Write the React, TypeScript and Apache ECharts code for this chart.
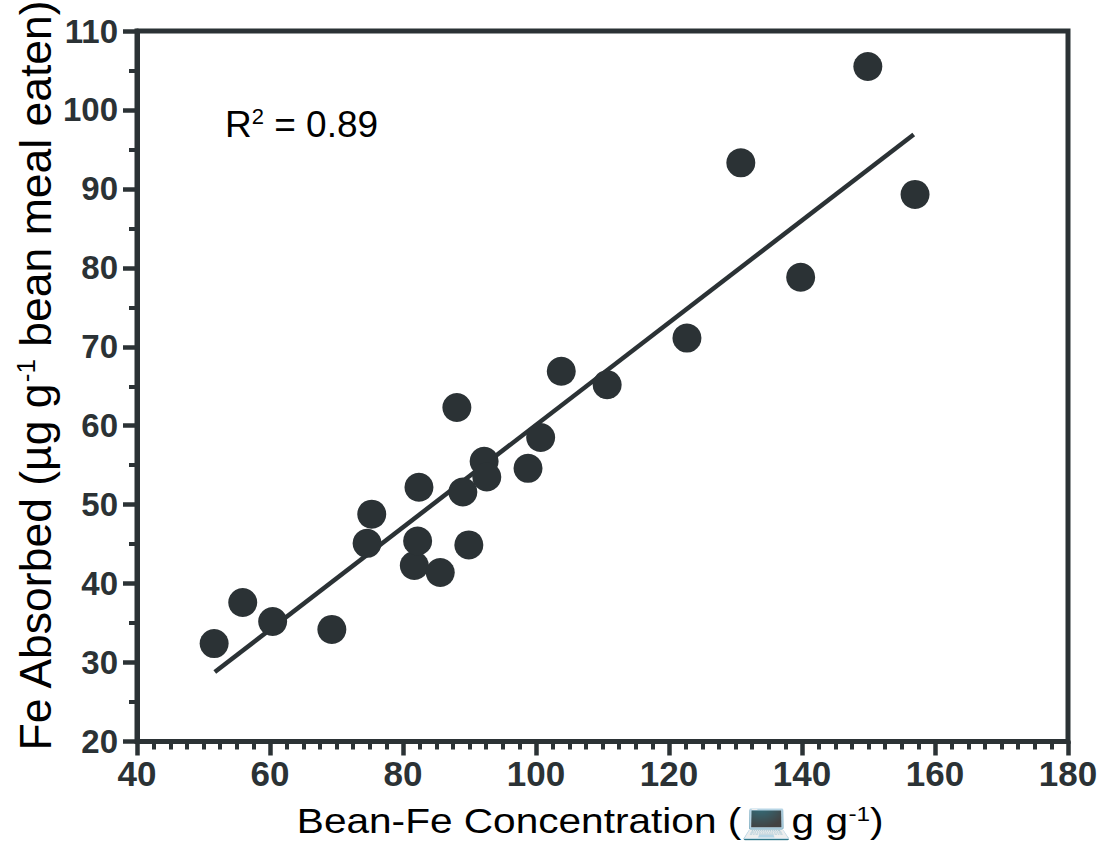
import React, { useEffect, useRef } from "react";
import * as echarts from "echarts";

const beanFe = [51.6, 55.9, 60.4, 69.3, 74.6, 75.3, 81.7, 82.2, 82.4, 85.6, 88.1, 89.0, 89.9, 92.2, 92.6, 98.8, 100.7, 103.8, 110.7, 122.7, 130.8, 139.8, 149.9, 157.0];
const feAbsorbed = [32.4, 37.6, 35.2, 34.2, 45.1, 48.8, 42.3, 45.4, 52.2, 41.4, 62.3, 51.6, 44.9, 55.5, 53.5, 54.6, 58.5, 66.9, 65.2, 71.1, 93.3, 78.8, 105.5, 89.3];
const fitX = [51.7, 156.8];
const fitY = [28.8, 96.9];
const xTickRange = { min: 40, max: 180, interval: 20 };
const yTickRange = { min: 20, max: 110, interval: 10 };
const rSquaredText = "0.89";

const DARK = "#2b3235";
const FONT = "'Liberation Sans', Arial, sans-serif";

export default function App() {
  const ref = useRef<HTMLDivElement>(null);
  useEffect(() => {
    if (!ref.current) return;
    const chart = echarts.init(ref.current, undefined, { renderer: "svg" });
    const points = beanFe.map((x, i) => [x, feAbsorbed[i]]);
    const fit = fitX.map((x, i) => [x, fitY[i]]);
    const axisCommon = {
      type: "value" as const,
      splitLine: { show: false },
      minorSplitLine: { show: false },
      axisLine: { show: true, onZero: false, lineStyle: { color: DARK, width: 5 } },
      axisTick: { show: true, inside: false, length: 14, lineStyle: { color: DARK, width: 4.5 } },
    };
    chart.setOption({
      animation: false,
      backgroundColor: "#ffffff",
      grid: {
        left: 137,
        right: 39,
        top: 31,
        bottom: 117.5,
        show: true,
        borderColor: DARK,
        borderWidth: 5,
        backgroundColor: "transparent",
      },
      xAxis: {
        ...axisCommon,
        ...xTickRange,
        minorTick: { show: true, splitNumber: 8, length: 8, lineStyle: { color: DARK, width: 4 } },
        axisLabel: {
          color: DARK,
          fontSize: 35,
          fontWeight: "bold",
          fontFamily: FONT,
          margin: 14,
        },
      },
      yAxis: {
        ...axisCommon,
        ...yTickRange,
        minorTick: { show: true, splitNumber: 2, length: 8, lineStyle: { color: DARK, width: 4 } },
        axisLabel: {
          color: DARK,
          fontSize: 33,
          fontWeight: "bold",
          fontFamily: FONT,
          margin: 19,
        },
      },
      graphic: [
        {
          type: "text",
          x: 225,
          y: 124,
          style: {
            text: "R{sup|2} = " + rSquaredText,
            fill: "#000",
            fontSize: 37,
            fontFamily: FONT,
            textAlign: "left",
            textVerticalAlign: "middle",
            align: "left",
            verticalAlign: "middle",
            rich: {
              sup: { fontSize: 22, fontFamily: FONT, fill: "#000", verticalAlign: "top" },
            },
          },
        },
        {
          type: "text",
          x: 590,
          y: 821,
          scaleX: 1.16,
          style: {
            text: "Bean-Fe Concentration (\u{1F4BB}g g{sup|-1})",
            fill: "#000",
            fontSize: 35,
            fontFamily: FONT,
            textAlign: "center",
            textVerticalAlign: "middle",
            align: "center",
            verticalAlign: "middle",
            rich: {
              sup: { fontSize: 21, fontFamily: FONT, fill: "#000", verticalAlign: "top" },
            },
          },
        },
        {
          type: "text",
          x: 35,
          y: 376,
          rotation: Math.PI / 2,
          style: {
            text: "Fe Absorbed (\u00B5g g{sup|-1} bean meal eaten)",
            fill: "#000",
            fontSize: 44.5,
            fontFamily: FONT,
            textAlign: "center",
            textVerticalAlign: "middle",
            align: "center",
            verticalAlign: "middle",
            rich: {
              sup: { fontSize: 26, fontFamily: FONT, fill: "#000", verticalAlign: "top" },
            },
          },
        },
      ],
      series: [
        {
          type: "line",
          data: fit,
          symbol: "none",
          lineStyle: { color: DARK, width: 4.5, opacity: 1 },
          z: 2,
        },
        {
          type: "scatter",
          data: points,
          symbol: "circle",
          symbolSize: 29,
          itemStyle: { color: DARK, opacity: 1 },
          z: 3,
        },
      ],
    });
    return () => chart.dispose();
  }, []);
  return (
    <div
      ref={ref}
      style={{ position: "fixed", left: 0, top: 0, width: 1107, height: 859 }}
    />
  );
}
